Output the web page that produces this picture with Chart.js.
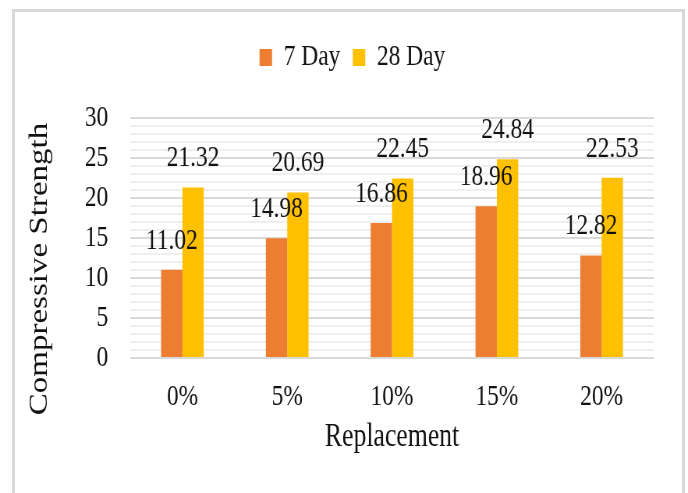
<!DOCTYPE html>
<html>
<head>
<meta charset="utf-8">
<script src="https://cdn.jsdelivr.net/npm/chart.js@4/dist/chart.umd.min.js"></script>
<style>
  html, body { margin: 0; padding: 0; background: #fff; overflow: hidden; width: 688px; height: 493px; }
  #frame { position: absolute; left: 12px; top: 9px; width: 673px; height: 600px; box-sizing: border-box; border: 3px solid #d9d9d9; }
  /* the chart is laid out on a wider canvas and narrowed horizontally, giving the condensed serif lettering */
  #wrap { position: absolute; left: 0; top: 0; width: 882px; height: 493px; transform: scaleX(0.78); transform-origin: 0 0; }
</style>
</head>
<body>
<div id="frame"></div>
<div id="wrap"><canvas id="c" width="882" height="493"></canvas></div>
<script>
// Compressive strength by replacement level
const categories = ['0%', '5%', '10%', '15%', '20%'];
const day7 = [11.02, 14.98, 16.86, 18.96, 12.82];
const day28 = [21.32, 20.69, 22.45, 24.84, 22.53];
const seriesNames = ['7 Day', '28 Day'];
const yTickLabels = [0, 5, 10, 15, 20, 25, 30];
const xTitle = 'Replacement';
const yTitle = 'Compressive Strength';

const SERIF = "'Liberation Serif', 'Times New Roman', serif";
const INK = '#111';

// value printed above each bar
const valueLabels = {
  id: 'valueLabels',
  afterDatasetsDraw(chart) {
    const ctx = chart.ctx;
    ctx.save();
    ctx.font = '30px ' + SERIF;
    ctx.fillStyle = INK;
    ctx.textAlign = 'center';
    ctx.textBaseline = 'middle';
    chart.data.datasets.forEach((ds, i) => {
      chart.getDatasetMeta(i).data.forEach((bar, j) => {
        ctx.fillText(ds.data[j].toFixed(2), bar.x, bar.y - 29);
      });
    });
    ctx.restore();
  }
};

// rotated value-axis title, sitting a little below the middle of the plot
const sideTitle = {
  id: 'sideTitle',
  afterDraw(chart) {
    const ctx = chart.ctx;
    const a = chart.chartArea;
    ctx.save();
    ctx.translate(51.3, (a.top + a.bottom) / 2 + 31);
    ctx.rotate(-Math.PI / 2);
    ctx.font = '33px ' + SERIF;
    ctx.fillStyle = INK;
    ctx.textAlign = 'center';
    ctx.textBaseline = 'middle';
    ctx.fillText(yTitle, 0, 0);
    ctx.restore();
  }
};

new Chart(document.getElementById('c'), {
  type: 'bar',
  data: {
    labels: categories,
    datasets: [
      { label: seriesNames[0], data: day7, backgroundColor: '#ED7D31', borderWidth: 0,
        categoryPercentage: 0.407, barPercentage: 1.0 },
      { label: seriesNames[1], data: day28, backgroundColor: '#FFC000', borderWidth: 0,
        categoryPercentage: 0.407, barPercentage: 1.0 }
    ]
  },
  options: {
    responsive: false,
    animation: false,
    devicePixelRatio: 1,
    layout: { padding: { top: 26.5, left: 65, right: 43.5, bottom: 0 } },
    plugins: {
      legend: {
        position: 'top',
        labels: {
          font: { family: SERIF, size: 30 },
          color: INK,
          boxWidth: 16,
          boxHeight: 17,
          padding: 16
        }
      },
      // empty band between the legend and the plot
      title: { display: true, text: '', weight: 500, font: { size: 10 }, padding: { top: 0, bottom: 23.5 } },
      tooltip: { enabled: false }
    },
    scales: {
      x: {
        grid: { display: false },
        border: { display: false },
        ticks: { font: { family: SERIF, size: 30 }, color: INK, padding: 13 },
        title: { display: true, text: xTitle, font: { family: SERIF, size: 33 }, color: INK,
                 padding: { top: 0, bottom: 36 } },
        afterFit(s) { s.height = 135; }
      },
      y: {
        min: 0,
        max: 30,
        grid: {
          drawTicks: false,
          lineWidth: 2,
          color: (c) => (c.tick && yTickLabels.includes(c.tick.value)) ? '#d9d9d9' : '#efefef'
        },
        border: { display: false },
        ticks: {
          stepSize: 1,
          autoSkip: false,
          padding: 28,
          font: { family: SERIF, size: 30 },
          color: INK,
          callback: (v) => yTickLabels.includes(v) ? String(v) : ''
        },
        afterFit(s) { s.width = 101.7; }
      }
    }
  },
  plugins: [valueLabels, sideTitle]
});
</script>
</body>
</html>
